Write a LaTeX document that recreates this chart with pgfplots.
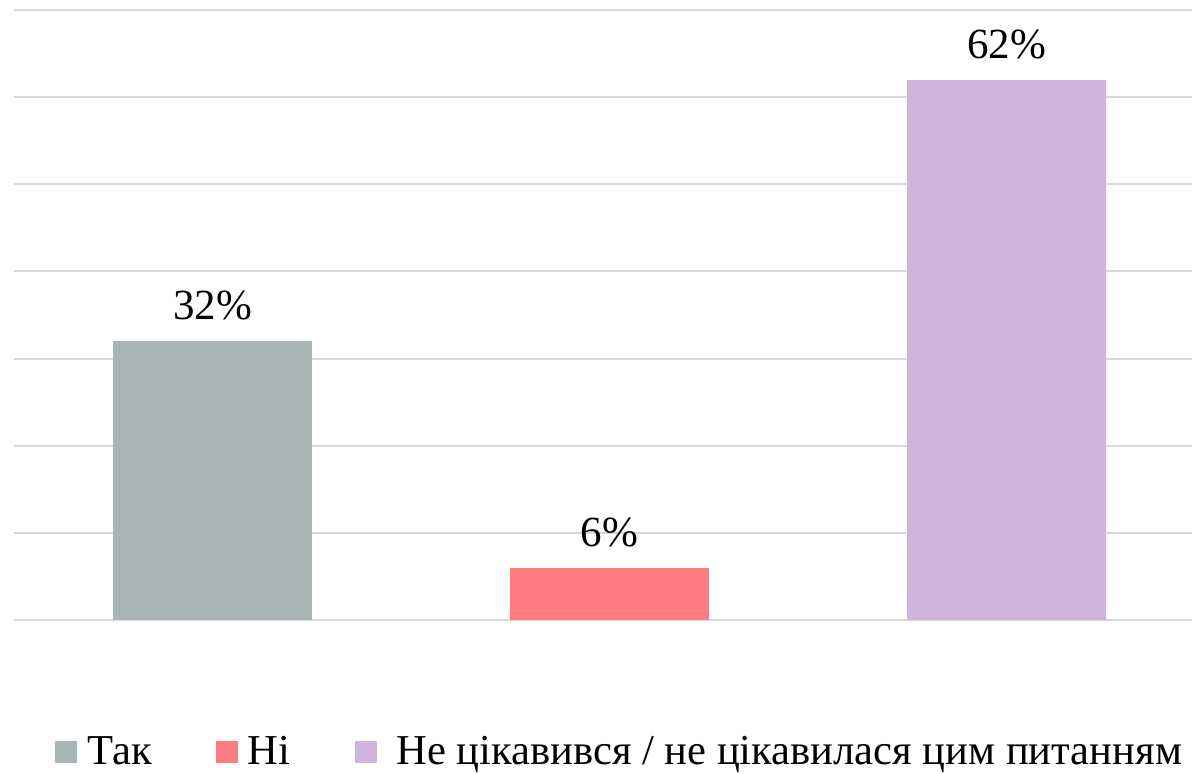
\documentclass[border=0pt]{standalone}
\usepackage{fontspec}
\setmainfont{Liberation Serif}
\usepackage{pgfplots}
\pgfplotsset{compat=1.18}
\definecolor{cgray}{HTML}{A9B4B5}
\definecolor{cred}{HTML}{FF7C80}
\definecolor{cpurple}{HTML}{CFB5DC}
\definecolor{cgrid}{HTML}{D9D9D9}
\begin{document}
\begin{tikzpicture}
\path[use as bounding box] (0,0) rectangle (596pt,386.5pt);
\begin{axis}[
  at={(7pt,76.5pt)}, anchor=south west,
  scale only axis, width=589pt, height=305pt,
  ybar, bar width=0.5, bar shift=0pt,
  xmin=-0.5, xmax=2.467, ymin=0, ymax=70,
  ytick={0,10,...,70}, yticklabels={}, xtick=\empty,
  ymajorgrids, grid style={cgrid, line width=1pt},
  axis line style={draw=none}, major tick length=0pt,
  clip=false,
  /pgf/number format/assume math mode=true,
  nodes near coords={\pgfmathprintnumber{\pgfplotspointmeta}\%},
  every node near coord/.append style={font=\fontsize{21.5}{25}\selectfont, black, yshift=7pt},
  legend columns=3,
  legend style={draw=none, at={(0.515,-0.216)}, anchor=center, font=\fontsize{21.3}{25}\selectfont,
    /tikz/every odd column/.append style={column sep=3pt},
    /tikz/every even column/.append style={column sep=30pt}},
  legend image code/.code={\fill[#1] (0pt,-5.5pt) rectangle (11pt,5.5pt);},
]
\addplot[fill=cgray, draw=none] coordinates {(0,32)};
\addlegendentry{Так}
\addplot[fill=cred, draw=none] coordinates {(1,6)};
\addlegendentry{Ні}
\addplot[fill=cpurple, draw=none] coordinates {(2,62)};
\addlegendentry{\hspace{5pt}Не цікавився / не цікавилася цим питанням}
\end{axis}
\end{tikzpicture}
\end{document}
